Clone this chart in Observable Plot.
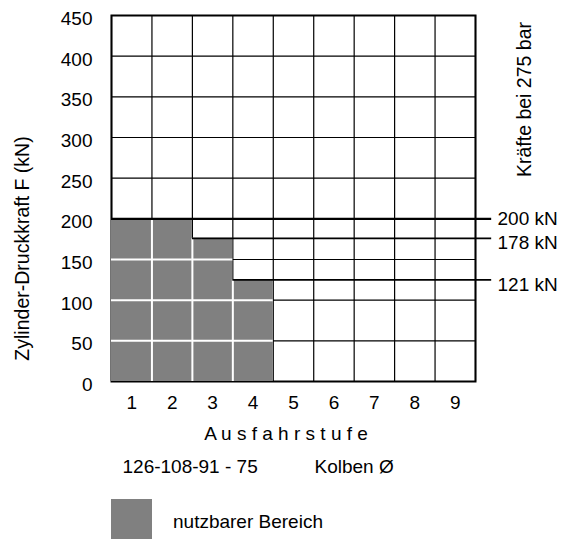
<!DOCTYPE html>
<html>
<head>
<meta charset="utf-8">
<script src="https://cdn.jsdelivr.net/npm/d3@7"></script>
<script src="https://cdn.jsdelivr.net/npm/@observablehq/plot@0.6"></script>
<style>
  html, body { margin: 0; padding: 0; background: #fff; }
  body { width: 572px; height: 539px; overflow: hidden; font-family: "Liberation Sans", Arial, sans-serif; }
  #legend { display: flex; align-items: center; height: 40px; margin-top: 9px; padding-left: 111px; font-size: 19px; color: #000; }
  #legend .sw { width: 41px; height: 40px; background: #808080; }
  #legend span { margin-left: 21px; position: relative; top: 3px; }
</style>
</head>
<body>
<div id="chart"></div>
<div id="legend"><div class="sw"></div><span>nutzbarer Bereich</span></div>
<script>
// ---- data ----
const stages = [1, 2, 3, 4, 5, 6, 7, 8, 9];
const yTicks = [0, 50, 100, 150, 200, 250, 300, 350, 400, 450];
const usableStages = [1, 2, 3, 4];
const usableForce = [200, 200, 176, 125];
const limitStages = [1, 3, 4];
const limitForce = [200, 176, 125];
const limitLabels = ["200 kN", "178 kN", "121 kN"];
const yTitle = "Zylinder-Druckkraft F (kN)";
const xTitle = "A u s f a h r s t u f e";
const rightTitle = "Kräfte bei 275 bar";
const pistonText = "126-108-91 - 75";
const pistonLabel = "Kolben Ø";

// ---- derived tables ----
const bars = usableStages.map((s, i) => ({stage: s, force: usableForce[i]}));
const limits = limitStages.map((s, i) => ({stage: s, force: limitForce[i], label: limitLabels[i]}));
const boundaries = [stages[0] - 0.5, ...stages.map(s => s + 0.5)];
const whiteH = bars.flatMap(b => yTicks.filter(g => g > 0 && g < b.force).map(g => ({stage: b.stage, y: g})));
const whiteV = bars.slice(0, -1).map((b, i) => ({x: b.stage + 0.5, top: Math.min(b.force, bars[i + 1].force)}));

const font = "'Liberation Sans', Arial, sans-serif";

const chart = Plot.plot({
  width: 572,
  height: 490,
  marginTop: 15,
  marginLeft: 111,
  marginRight: 97,
  marginBottom: 109,
  style: {fontFamily: font, fontSize: "19px", color: "#000", background: "#fff", overflow: "visible"},
  x: {domain: [0.5, 9.5], axis: null},
  y: {domain: [0, 450], axis: null},
  marks: [
    Plot.ruleX(boundaries, {x: d => d, stroke: "#000", strokeWidth: 1.2}),
    Plot.ruleY(yTicks, {y: d => d, stroke: "#000", strokeWidth: 1.2}),
    Plot.frame({stroke: "#000", strokeWidth: 2}),
    Plot.rectY(bars, {x1: d => d.stage - 0.5, x2: d => d.stage + 0.5, y1: 0, y2: "force", fill: "#808080"}),
    Plot.ruleY(whiteH, {x1: d => d.stage - 0.5, x2: d => d.stage + 0.5, y: "y", stroke: "#fff", strokeWidth: 2}),
    Plot.ruleX(whiteV, {x: "x", y1: 0, y2: "top", stroke: "#fff", strokeWidth: 2}),
    Plot.ruleY(limits.slice(0, 1), {x1: d => d.stage - 0.5, x2: 9.9, y: "force", stroke: "#000", strokeWidth: 2.2}),
    Plot.ruleY(limits.slice(1), {x1: d => d.stage - 0.5, x2: 9.9, y: "force", stroke: "#000", strokeWidth: 1.6}),
    Plot.text(limits.slice(0, 1), {y: "force", text: "label", frameAnchor: "right", textAnchor: "start", lineAnchor: "middle", dx: 22, dy: 0, fontSize: 19}),
    Plot.text(limits.slice(1), {y: "force", text: "label", frameAnchor: "right", textAnchor: "start", lineAnchor: "middle", dx: 22, dy: 5, fontSize: 19}),
    Plot.axisX(stages, {tickSize: 0, tickPadding: 14, fontSize: 19, label: null}),
    Plot.axisY(yTicks, {tickSize: 0, tickPadding: 19, dy: 3.5, fontSize: 19, label: null}),
    Plot.text([yTitle], {text: d => d, frameAnchor: "left", textAnchor: "middle", lineAnchor: "middle", rotate: -90, dx: -89, dy: 50, fontSize: 19.5}),
    Plot.text([rightTitle], {text: d => d, frameAnchor: "top-right", textAnchor: "middle", lineAnchor: "middle", rotate: -90, dx: 49, dy: 84, fontSize: 19.5}),
    Plot.text([xTitle], {text: d => d, frameAnchor: "bottom", textAnchor: "middle", lineAnchor: "middle", dx: -7.5, dy: 52, fontSize: 19}),
    Plot.text([pistonText], {text: d => d, frameAnchor: "bottom-left", textAnchor: "start", lineAnchor: "middle", dx: 11, dy: 85, fontSize: 19}),
    Plot.text([pistonLabel], {text: d => d, frameAnchor: "bottom-left", textAnchor: "start", lineAnchor: "middle", dx: 203, dy: 85, fontSize: 19})
  ]
});
document.getElementById("chart").appendChild(chart);
</script>
</body>
</html>
